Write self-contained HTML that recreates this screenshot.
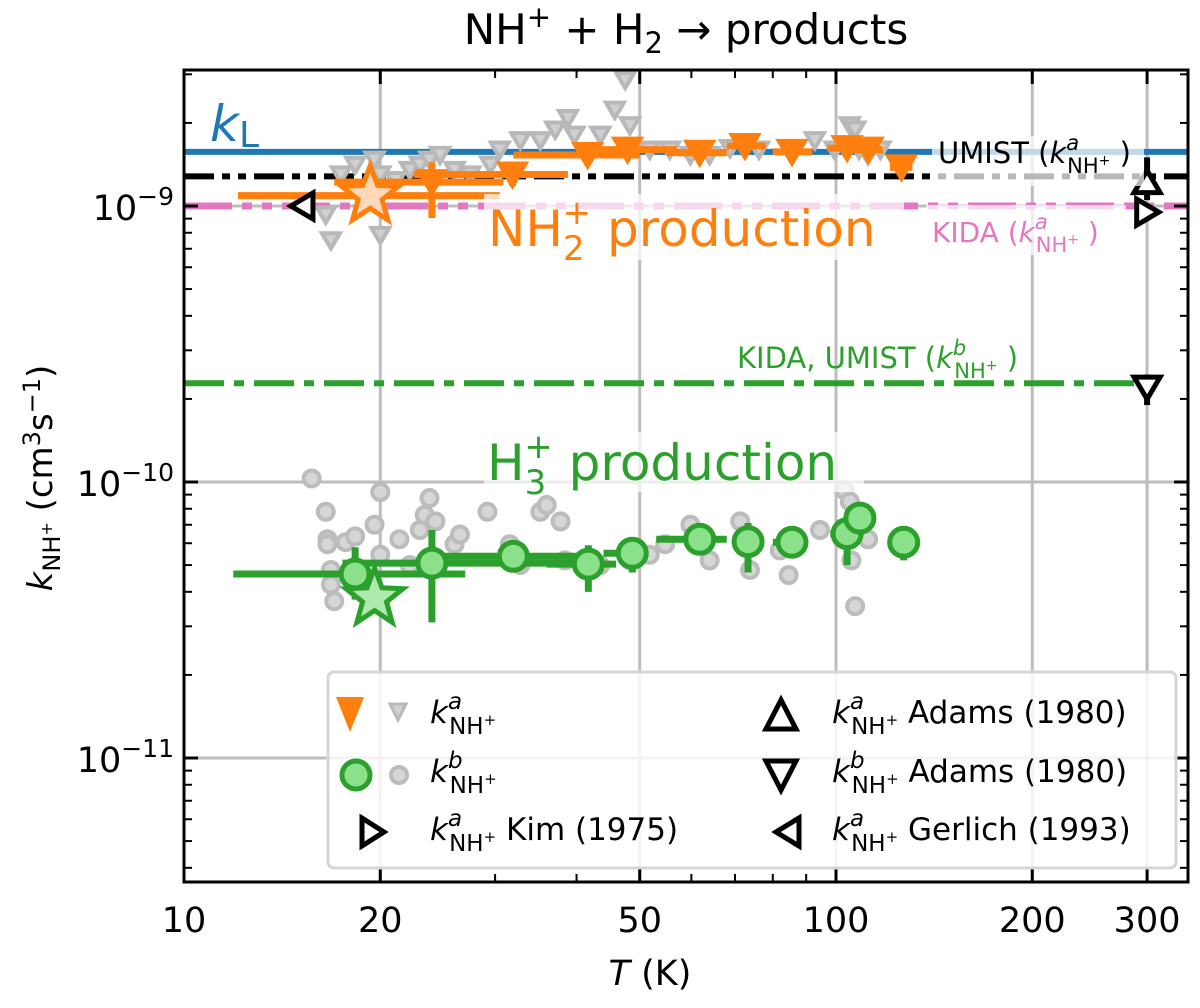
<!DOCTYPE html>
<html><head><meta charset="utf-8"><style>
body{margin:0;background:#fff}
svg{font-family:"DejaVu Sans","Liberation Sans",sans-serif}
</style></head><body>
<svg id="chart" width="1200" height="1003" viewBox="0 0 1200 1003" xmlns="http://www.w3.org/2000/svg"></svg>
<script>
// ---- data ----
const xTicks = [10, 20, 50, 100, 200, 300];
const xMinor = [30, 40, 60, 70, 80, 90];
const yTicks = [1e-11, 1e-10, 1e-9];
const yTickExp = ["\u221211", "\u221210", "\u22129"];
const kL = 1.57e-9, umistA = 1.28e-9, kidaA = 1.0e-9, kidaB = 2.28e-10;
const grayTriT = [16.5,16.8,17.4,18.3,18.9,19.6,20,20,21.1,22.2,23,23.8,24.7,26,27.5,29.5,30.5,32.8,35.2,37.1,38.8,39.7,43.5,45.8,47.5,48.3,51.8,55.6,59.8,64,68.8,76.2,84.6,92.8,99.5,105,107,108.5,112,117];
const grayTriK = [0.93e-9,0.75e-9,1.30e-9,1.41e-9,1.10e-9,1.47e-9,1.30e-9,0.785e-9,1.24e-9,1.35e-9,1.41e-9,1.47e-9,1.53e-9,1.35e-9,1.30e-9,1.41e-9,1.60e-9,1.73e-9,1.73e-9,1.89e-9,2.08e-9,1.81e-9,1.81e-9,2.23e-9,2.86e-9,1.96e-9,1.60e-9,1.60e-9,1.53e-9,1.53e-9,1.62e-9,1.60e-9,1.60e-9,1.73e-9,1.60e-9,1.96e-9,1.89e-9,1.60e-9,1.53e-9,1.60e-9];
const grayCirT = [15.7,16.5,16.6,16.6,16.8,16.8,17.0,17.7,18.3,18.3,18.9,19.6,20,20,20,21.4,22.2,23,23.4,23.8,24.3,26,26.5,29.2,31.6,32.8,35.2,36,37.8,38.4,43.5,48.3,51.8,54.7,59.8,64,71.3,73.8,82,84.6,94.5,103,105,105.6,107,108.5,112];
const grayCirK = [1.03e-10,7.8e-11,6.2e-11,5.95e-11,4.8e-11,4.25e-11,3.7e-11,6.05e-11,6.35e-11,4.6e-11,4.05e-11,7.0e-11,9.2e-11,5.45e-11,3.7e-11,6.2e-11,5.0e-11,6.7e-11,7.6e-11,8.75e-11,7.2e-11,5.95e-11,6.45e-11,7.8e-11,5.95e-11,5.0e-11,7.8e-11,8.25e-11,7.2e-11,5.2e-11,5.0e-11,5.2e-11,5.45e-11,5.95e-11,7.0e-11,5.2e-11,7.2e-11,4.8e-11,5.65e-11,4.6e-11,6.7e-11,9.35e-11,8.5e-11,5.2e-11,3.55e-11,6.7e-11,6.2e-11];
const orT    = [24.0,31.9,41.6,47.9,61.8,72.5,85.6,104,112,126];
const orK    = [1.22e-9,1.30e-9,1.53e-9,1.60e-9,1.56e-9,1.65e-9,1.57e-9,1.62e-9,1.60e-9,1.38e-9];
const orTlo  = [17.0,22.5,32,40,55,68,80,97,106,121];
const orThi  = [30.9,38.8,50,57,68,78,92,111,118,131];
const orKlo  = [0.905e-9,1.18e-9,1.44e-9,1.50e-9,1.48e-9,1.55e-9,1.49e-9,1.52e-9,1.50e-9,1.30e-9];
const orKhi  = [1.44e-9,1.42e-9,1.63e-9,1.70e-9,1.66e-9,1.75e-9,1.66e-9,1.72e-9,1.70e-9,1.46e-9];
const orStar = {T:19.3, k:1.09e-9, Tlo:12.1, Thi:30.5};
const grT   = [18.3,24.0,32.0,41.7,48.7,61.8,73.3,85.6,104,108.8,127];
const grK   = [4.64e-11,5.08e-11,5.38e-11,5.04e-11,5.52e-11,6.2e-11,6.08e-11,6.05e-11,6.5e-11,7.4e-11,6.05e-11];
const grTlo = [11.9,17.5,24,36,44,53,70,80,98,105,125];
const grThi = [27,40,40,46,50,68,77,90,110,113,129];
const grKlo = [3.75e-11,3.1e-11,4.7e-11,4.0e-11,4.7e-11,5.6e-11,4.7e-11,5.3e-11,5.0e-11,6.6e-11,5.2e-11];
const grKhi = [5.8e-11,6.7e-11,5.9e-11,5.9e-11,6.1e-11,6.7e-11,7.1e-11,6.7e-11,7.2e-11,8.2e-11,6.9e-11];
const grStar = {T:19.6, k:3.8e-11};
const adamsA = {T:300, k:1.22e-9, lo:1.05e-9, hi:1.5e-9};
const adamsB = {T:300, k:2.2e-10, lo:1.9e-10, hi:2.45e-10};
const kimA = {T:300, k:9.5e-10};
const gerlichA = {T:15.2, k:1.0e-9};

// ---- axes ----
const X0=184, XD=652, YTOP=70, YBOT=882, XR=1188, Y9=206, YD=276;
const xs = t => X0 + XD*Math.log10(t/10);
const ys = k => Y9 - YD*Math.log10(k/1e-9);
const svg = document.getElementById('chart');
const NS='http://www.w3.org/2000/svg';
function mk(tag, attrs, parent){const e=document.createElementNS(NS,tag);for(const a in attrs)e.setAttribute(a,attrs[a]);(parent||svg).appendChild(e);return e;}

const gGrid = mk('g',{});


xTicks.slice(1).forEach(t=>mk('line',{x1:xs(t),x2:xs(t),y1:YTOP,y2:YBOT,stroke:'#bdbdbd','stroke-width':3},gGrid));
yTicks.forEach(k=>mk('line',{x1:X0,x2:XR,y1:ys(k),y2:ys(k),stroke:'#bdbdbd','stroke-width':3},gGrid));

const lkL = mk('line',{x1:X0,x2:XR,y1:ys(kL),y2:ys(kL),stroke:'#1f77b4','stroke-width':6});


const lum = mk('line',{x1:X0,x2:XR,y1:ys(umistA),y2:ys(umistA),stroke:'#000','stroke-width':6,'stroke-dasharray':'30 8 8 8 8 8'});


const lki = mk('line',{x1:X0,x2:XR,y1:ys(kidaA),y2:ys(kidaA),stroke:'#e377c2','stroke-width':7,'stroke-dasharray':'48 10 10 10 10 10'});


const lkb = mk('line',{x1:X0,x2:XR-40,y1:ys(kidaB),y2:ys(kidaB),stroke:'#2ca02c','stroke-width':6,'stroke-dasharray':'40 10 10 10'});



function triDown(cx,cy,s,attrs,parent){return mk('polygon',Object.assign({points:`${cx-s},${cy-s*0.8} ${cx+s},${cy-s*0.8} ${cx},${cy+s*0.9}`},attrs),parent);}
function triUp(cx,cy,s,attrs,parent){return mk('polygon',Object.assign({points:`${cx-s},${cy+s*0.8} ${cx+s},${cy+s*0.8} ${cx},${cy-s*0.9}`},attrs),parent);}
function triRight(cx,cy,s,attrs,parent){return mk('polygon',Object.assign({points:`${cx-s*0.8},${cy-s} ${cx-s*0.8},${cy+s} ${cx+s*0.9},${cy}`},attrs),parent);}
function triLeft(cx,cy,s,attrs,parent){return mk('polygon',Object.assign({points:`${cx+s*0.8},${cy-s} ${cx+s*0.8},${cy+s} ${cx-s*0.9},${cy}`},attrs),parent);}
function star(cx,cy,R,attrs,parent){let p=[];for(let i=0;i<10;i++){const r=i%2?R*0.42:R;const a=-Math.PI/2+i*Math.PI/5;p.push((cx+r*Math.cos(a)).toFixed(1)+','+(cy+r*Math.sin(a)).toFixed(1));}return mk('polygon',Object.assign({points:p.join(' ')},attrs),parent);}

grayTriT.forEach((t,i)=>{
  const p=triDown(xs(t),ys(grayTriK[i]),9,{fill:'#d0d0d0',stroke:'#b8b8b8','stroke-width':4});
  
  
});
grayCirT.forEach((t,i)=>{
  const c=mk('circle',{cx:xs(t),cy:ys(grayCirK[i]),r:8,fill:'#d6d6d6',stroke:'#bcbcbc','stroke-width':4});
  
  
});

const OR='#ff7f0e', GR='#2ca02c';
mk('line',{x1:xs(orStar.Tlo),x2:xs(orStar.Thi),y1:ys(orStar.k),y2:ys(orStar.k),stroke:OR,'stroke-width':7});
orT.forEach((t,i)=>{
  mk('line',{x1:xs(orTlo[i]),x2:xs(orThi[i]),y1:ys(orK[i]),y2:ys(orK[i]),stroke:OR,'stroke-width':7});
  mk('line',{x1:xs(t),x2:xs(t),y1:ys(orKlo[i]),y2:ys(orKhi[i]),stroke:OR,'stroke-width':7});
});
orT.forEach((t,i)=>{
  const p=triDown(xs(t),ys(orK[i]),15,{fill:OR,stroke:OR,'stroke-width':2});
  
  
});
const os=star(xs(orStar.T),ys(orStar.k),30,{fill:'#ffd8b8',stroke:OR,'stroke-width':5});



grT.forEach((t,i)=>{
  mk('line',{x1:xs(grTlo[i]),x2:xs(grThi[i]),y1:ys(grK[i]),y2:ys(grK[i]),stroke:GR,'stroke-width':7});
  mk('line',{x1:xs(t),x2:xs(t),y1:ys(grKlo[i]),y2:ys(grKhi[i]),stroke:GR,'stroke-width':7});
});
grT.forEach((t,i)=>{
  const c=mk('circle',{cx:xs(t),cy:ys(grK[i]),r:14,fill:'#8be08a',stroke:GR,'stroke-width':5});
  
  
});
const gs=star(xs(grStar.T),ys(grStar.k),30,{fill:'#aee8ad',stroke:GR,'stroke-width':5});



mk('line',{x1:xs(adamsA.T),x2:xs(adamsA.T),y1:ys(adamsA.lo),y2:ys(adamsA.hi),stroke:'#000','stroke-width':6});
const aA=triUp(xs(adamsA.T),ys(adamsA.k),13,{fill:'#fff',stroke:'#000','stroke-width':5});


const kA=triRight(xs(kimA.T),ys(kimA.k),13,{fill:'#fff',stroke:'#000','stroke-width':5});


mk('line',{x1:xs(adamsB.T),x2:xs(adamsB.T),y1:ys(adamsB.lo),y2:ys(adamsB.hi),stroke:'#000','stroke-width':6});
const aB=triDown(xs(adamsB.T),ys(adamsB.k),13,{fill:'#fff',stroke:'#000','stroke-width':5});


const gA=triLeft(xs(gerlichA.T),ys(gerlichA.k),13,{fill:'#fff',stroke:'#000','stroke-width':5});



const fr=mk('rect',{x:X0,y:YTOP,width:XR-X0,height:YBOT-YTOP,fill:'none',stroke:'#000','stroke-width':3});


xTicks.forEach(t=>{const x=xs(t);
  mk('line',{x1:x,x2:x,y1:YBOT,y2:YBOT-14,stroke:'#000','stroke-width':3});
  mk('line',{x1:x,x2:x,y1:YTOP,y2:YTOP+14,stroke:'#000','stroke-width':3});
  const tx=mk('text',{x:x,y:YBOT+50,'font-size':35,'text-anchor':'middle'});tx.textContent=t;
  
  
});
xMinor.forEach(t=>{const x=xs(t);
  mk('line',{x1:x,x2:x,y1:YBOT,y2:YBOT-8,stroke:'#000','stroke-width':2});
  mk('line',{x1:x,x2:x,y1:YTOP,y2:YTOP+8,stroke:'#000','stroke-width':2});
});
for(let e=-12;e<=-9;e++){for(let m=1;m<10;m++){const k=m*Math.pow(10,e);const y=ys(k);if(y<YTOP||y>YBOT)continue;
  const L=m===1?14:8;
  mk('line',{x1:X0,x2:X0+L,y1:y,y2:y,stroke:'#000','stroke-width':m===1?3:2});
  mk('line',{x1:XR,x2:XR-L,y1:y,y2:y,stroke:'#000','stroke-width':m===1?3:2});
}}
yTicks.forEach((k,i)=>{
  const tx=mk('text',{x:174,y:ys(k)+14,'font-size':35,'text-anchor':'end'});
  tx.innerHTML='10<tspan dy="-15" font-size="25">'+yTickExp[i]+'</tspan>';
  
  
});
</script>
<script>
(function(){
const svg=document.getElementById('chart');
const K=(sup,fs)=>`<tspan font-style="italic">k</tspan><tspan font-style="italic" font-size="${fs}" dy="-${Math.round(fs*0.6)}">${sup}</tspan><tspan font-size="${fs}" dx="-${Math.round(fs*0.55)}" dy="${Math.round(fs*1.1)}">NH</tspan><tspan font-size="${Math.round(fs*0.65)}" dy="-${Math.round(fs*0.4)}">+</tspan><tspan dy="-${Math.round(fs*1.1)-Math.round(fs*0.6)-Math.round(fs*0.4)}"> </tspan>`;
svg.insertAdjacentHTML('beforeend',`
<g>
<rect x="484" y="194" width="420" height="66" fill="#fff" opacity="0.72"/>
<rect x="926" y="205" width="200" height="50" fill="#fff" opacity="0.72"/>
<rect x="484" y="432" width="380" height="60" fill="#fff" opacity="0.72"/>
<rect x="932" y="136" width="212" height="50" fill="#fff" opacity="0.72"/>
</g>
<text x="210" y="141" font-size="50" fill="#1f77b4" font-style="italic">k<tspan font-style="normal" font-size="36" dy="6">L</tspan></text>
<text x="488" y="246" font-size="50" fill="#ff7f0e">NH<tspan font-size="34" dy="14">2</tspan><tspan font-size="34" dx="-22" dy="-36">+</tspan><tspan dy="22"> production</tspan></text>
<text x="487" y="480" font-size="50" fill="#2ca02c">H<tspan font-size="34" dy="14">3</tspan><tspan font-size="34" dx="-22" dy="-36">+</tspan><tspan dy="22"> production</tspan></text>
<text x="938" y="163" font-size="29" fill="#000">UMIST (${K('a',21)})</text>
<text x="932" y="242" font-size="28" fill="#e377c2">KIDA (${K('a',21)})</text>
<text x="737" y="368" font-size="29" fill="#2ca02c">KIDA, UMIST (${K('b',21)})</text>
<text x="686" y="44" font-size="42" text-anchor="middle">NH<tspan font-size="29" dy="-17">+</tspan><tspan dy="17"> + H</tspan><tspan font-size="29" dy="9">2</tspan><tspan dy="-9"> → products</tspan></text>
<text x="650" y="985" font-size="35" text-anchor="middle"><tspan font-style="italic">T</tspan> (K)</text>
<text transform="translate(52,478) rotate(-90)" font-size="34" text-anchor="middle"><tspan font-style="italic">k</tspan><tspan font-size="24" dy="8">NH</tspan><tspan font-size="16" dy="-8">+</tspan><tspan dy="0"> (cm</tspan><tspan font-size="24" dy="-12">3</tspan><tspan dy="12">s</tspan><tspan font-size="24" dy="-12">−1</tspan><tspan dy="12">)</tspan></text>
<g>
<rect x="328" y="672" width="848" height="196" rx="6" fill="#fff" fill-opacity="0.82" stroke="#d6d6d6" stroke-width="3"/>
<polygon points="336,697 364,697 350,732" fill="#ff7f0e"/>
<polygon points="390,704 406,704 398,720" fill="#d0d0d0" stroke="#b8b8b8" stroke-width="3"/>
<circle cx="356" cy="775" r="14" fill="#8be08a" stroke="#2ca02c" stroke-width="5"/>
<circle cx="399" cy="775" r="8" fill="#d6d6d6" stroke="#bcbcbc" stroke-width="4"/>
<polygon points="362,818 362,846 384,832" fill="#fff" stroke="#000" stroke-width="5"/>
<polygon points="781,700 766,729 796,729" fill="#fff" stroke="#000" stroke-width="5"/>
<polygon points="766,761 796,761 781,790" fill="#fff" stroke="#000" stroke-width="5"/>
<polygon points="799,818 799,846 776,832" fill="#fff" stroke="#000" stroke-width="5"/>
<g font-size="31">
<text x="430" y="723">${K('a',23)}</text>
<text x="430" y="782">${K('b',23)}</text>
<text x="430" y="840">${K('a',23)}Kim (1975)</text>
<text x="832" y="723">${K('a',23)}Adams (1980)</text>
<text x="832" y="782">${K('b',23)}Adams (1980)</text>
<text x="832" y="840">${K('a',23)}Gerlich (1993)</text>
</g>
</g>`);
})();
</script>
</body></html>
